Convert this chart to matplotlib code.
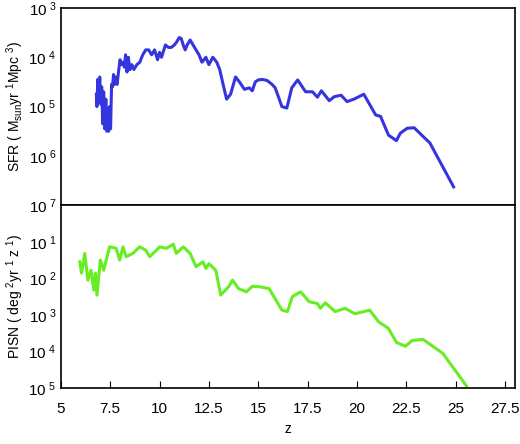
import matplotlib
matplotlib.use("Agg")
import matplotlib.pyplot as plt
import numpy as np
from matplotlib.ticker import FixedLocator, FixedFormatter, NullLocator

plt.rcParams['font.family'] = ['Liberation Sans', 'DejaVu Sans']
plt.rcParams['mathtext.fontset'] = 'custom'
plt.rcParams['mathtext.rm'] = 'Liberation Sans'
plt.rcParams['mathtext.it'] = 'Liberation Sans'

# SFR (log10) vs z
sfr_z = [6.80, 6.83, 6.87, 6.92, 6.97, 7.02, 7.07, 7.12, 7.17, 7.22, 7.28, 7.33, 7.38, 7.42, 7.47,
         7.52, 7.57, 7.62, 7.67, 7.72, 7.78, 7.85, 7.92, 8.0, 8.07, 8.15, 8.22, 8.28, 8.35, 8.42,
         8.5, 8.6, 8.7, 8.85, 9.0, 9.15, 9.3, 9.45, 9.6, 9.75, 9.9, 10.0, 10.1, 10.3, 10.45,
         10.6, 10.75, 10.85, 11.0, 11.1, 11.2, 11.3, 11.4, 11.55, 11.7, 11.85, 12.0, 12.15, 12.35,
         12.5, 12.7, 12.9, 13.05, 13.25, 13.4, 13.6, 13.85, 14.05, 14.3, 14.55, 14.7, 14.85, 15.0,
         15.2, 15.45, 15.7, 15.86, 16.2, 16.45, 16.7, 17.0, 17.4, 17.75, 18.0, 18.2, 18.6, 18.85,
         19.2, 19.5, 19.85, 20.35, 20.95, 21.2, 21.6, 22.0, 22.2, 22.55, 22.9, 23.7, 24.9]
sfr_log = [-4.75, -5.0, -4.45, -4.9, -4.4, -4.95, -4.6, -5.35, -4.7, -5.45, -4.85, -5.5, -5.05, -5.5, -5.0,
           -5.45, -4.55, -4.6, -4.35, -4.55, -4.4, -4.55, -4.3, -4.05, -4.15, -4.1, -4.2, -3.95, -4.3, -4.0,
           -4.25, -4.15, -4.25, -4.15, -4.1, -3.95, -3.85, -3.85, -3.95, -3.85, -4.05, -3.9, -4.0, -3.75, -3.8,
           -3.8, -3.75, -3.7, -3.6, -3.62, -3.75, -3.85, -3.75, -3.65, -3.75, -3.85, -3.95, -4.1, -4.0,
           -4.15, -4.0, -4.1, -4.25, -4.6, -4.85, -4.75, -4.4, -4.5, -4.65, -4.62, -4.68, -4.5, -4.46,
           -4.45, -4.47, -4.55, -4.62, -5.0, -5.03, -4.62, -4.46, -4.70, -4.70, -4.81, -4.68, -4.88, -4.8,
           -4.77, -4.9, -4.85, -4.75, -5.17, -5.2, -5.58, -5.69, -5.54, -5.44, -5.43, -5.74, -6.63]

# PISN rate (log10) vs z
pisn_z = [5.96, 6.05, 6.21, 6.37, 6.53, 6.67, 6.75, 6.83, 7.0, 7.17, 7.47, 7.8, 7.98, 8.15, 8.31,
          8.65, 8.99, 9.3, 9.5, 9.85, 10.0, 10.35, 10.7, 10.85, 11.2, 11.55, 11.85, 12.2, 12.35,
          12.5, 12.85, 13.1, 13.5, 13.7, 14.0, 14.4, 14.7, 15.05, 15.55, 16.2, 16.48, 16.73, 17.15,
          17.58, 18.0, 18.15, 18.4, 18.9, 19.4, 19.9, 20.65, 21.1, 21.6, 22.0, 22.45, 22.8, 23.35,
          24.35, 25.55]
pisn_log = [-1.55, -1.86, -1.32, -2.05, -1.78, -2.32, -1.86, -2.46, -1.5, -1.78, -1.14, -1.18, -1.5, -1.14, -1.41,
            -1.32, -1.14, -1.23, -1.41, -1.23, -1.14, -1.18, -1.07, -1.32, -1.14, -1.32, -1.68, -1.55, -1.73,
            -1.6, -1.78, -2.46, -2.23, -2.05, -2.28, -2.37, -2.22, -2.23, -2.28, -2.87, -2.91, -2.50, -2.37,
            -2.64, -2.69, -2.82, -2.67, -2.91, -2.82, -2.97, -2.87, -3.19, -3.37, -3.75, -3.86, -3.70, -3.67,
            -4.05, -4.94]

fig = plt.figure(figsize=(5.2, 4.44), dpi=100)
ax1 = fig.add_axes([0.117, 0.538, 0.873, 0.444])
ax2 = fig.add_axes([0.117, 0.126, 0.873, 0.412], sharex=ax1)

ax1.semilogy(sfr_z, 10 ** np.array(sfr_log), color='#3535e0', lw=2.2)
ax2.semilogy(pisn_z, 10 ** np.array(pisn_log), color='#66ee22', lw=2.2)

ax1.set_ylim(1e-7, 1e-3)
ax2.set_ylim(1e-5, 1e0)
ax1.set_xlim(5, 28)

def lab(n):
    return r"$\mathregular{10^{\ %d}}$" % n

ax1.yaxis.set_major_locator(FixedLocator([1e-7, 1e-6, 1e-5, 1e-4, 1e-3]))
ax1.yaxis.set_major_formatter(FixedFormatter([lab(n) for n in [7, 6, 5, 4, 3]]))
ax2.yaxis.set_major_locator(FixedLocator([1e-5, 1e-4, 1e-3, 1e-2, 1e-1]))
ax2.yaxis.set_major_formatter(FixedFormatter([lab(n) for n in [5, 4, 3, 2, 1]]))
for a in (ax1, ax2):
    a.yaxis.set_minor_locator(NullLocator())
    a.tick_params(axis='y', length=0, labelsize=11)
    a.tick_params(axis='x', direction='in', length=5, labelsize=11, top=False)
    for s in a.spines.values():
        s.set_linewidth(1.2)
ax1.tick_params(axis='x', length=0, labelbottom=False)
ax2.set_xticks([5, 7.5, 10, 12.5, 15, 17.5, 20, 22.5, 25, 27.5])
ax2.set_xticklabels(['5', '7.5', '10', '12.5', '15', '17.5', '20', '22.5', '25', '27.5'])
ax2.tick_params(axis='x', pad=10)

ax1.set_ylabel(r"SFR ( M$_{\mathregular{sun}}$yr $^{\mathregular{1}}$Mpc $^{\mathregular{3}}$)", fontsize=10, labelpad=2)
ax2.set_ylabel(r"PISN ( deg $^{\mathregular{2}}$yr $^{\mathregular{1}}$ z $^{\mathregular{1}}$)", fontsize=10, labelpad=2)
ax2.set_xlabel("z", fontsize=10, labelpad=4)

fig.savefig("out.png", dpi=100)
